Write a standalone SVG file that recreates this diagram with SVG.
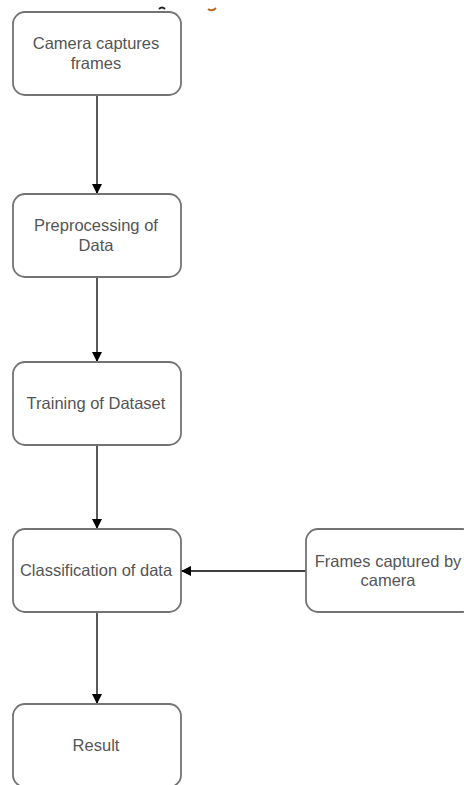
<svg xmlns="http://www.w3.org/2000/svg" width="464" height="785" viewBox="0 0 464 785">
<defs>
<style>
.box{fill:#fff;stroke:#737373;stroke-width:1.8}
.lbl{font-family:"Liberation Sans",Arial,sans-serif;font-size:16.5px;fill:#555;text-anchor:middle}
.conn{stroke:#000;stroke-width:1.3;fill:none}
</style>
<marker id="ah" viewBox="0 0 10 10" refX="10" refY="5" markerWidth="10" markerHeight="10" markerUnits="userSpaceOnUse" orient="auto">
<path d="M0,0 L10,5 L0,10 Z" fill="#000"/>
</marker>
</defs>
<rect width="464" height="785" fill="#fff"/>
<path d="M159,9 q3,-3 6,0" stroke="#222" stroke-width="2" fill="none"/>
<path d="M208,9 q4,3 8,-1" stroke="#b86a20" stroke-width="2" fill="none"/>
<g id="connectors">
<line class="conn" x1="97" y1="95" x2="97" y2="194" marker-end="url(#ah)"/>
<line class="conn" x1="97" y1="277" x2="97" y2="362" marker-end="url(#ah)"/>
<line class="conn" x1="97" y1="445" x2="97" y2="529" marker-end="url(#ah)"/>
<line class="conn" x1="97" y1="612" x2="97" y2="704" marker-end="url(#ah)"/>
<line class="conn" x1="306" y1="571" x2="181" y2="571" marker-end="url(#ah)"/>
</g>
<g id="n1"><rect class="box" x="13" y="12" width="168" height="83" rx="12"/>
<text class="lbl" x="96" y="49">Camera captures</text><text class="lbl" x="96" y="69">frames</text></g>
<g id="n2"><rect class="box" x="13" y="194" width="168" height="83" rx="12"/>
<text class="lbl" x="96" y="231">Preprocessing of</text><text class="lbl" x="96" y="251">Data</text></g>
<g id="n3"><rect class="box" x="13" y="362" width="168" height="83" rx="12"/>
<text class="lbl" x="96" y="409">Training of Dataset</text></g>
<g id="n4"><rect class="box" x="13" y="529" width="168" height="83" rx="12"/>
<text class="lbl" x="96" y="576">Classification of data</text></g>
<g id="n5"><rect class="box" x="13" y="704" width="168" height="83" rx="12"/>
<text class="lbl" x="96" y="751">Result</text></g>
<g id="n6"><rect class="box" x="306" y="529" width="168" height="83" rx="12"/>
<text class="lbl" x="388" y="567">Frames captured by</text><text class="lbl" x="388" y="586">camera</text></g>
</svg>
